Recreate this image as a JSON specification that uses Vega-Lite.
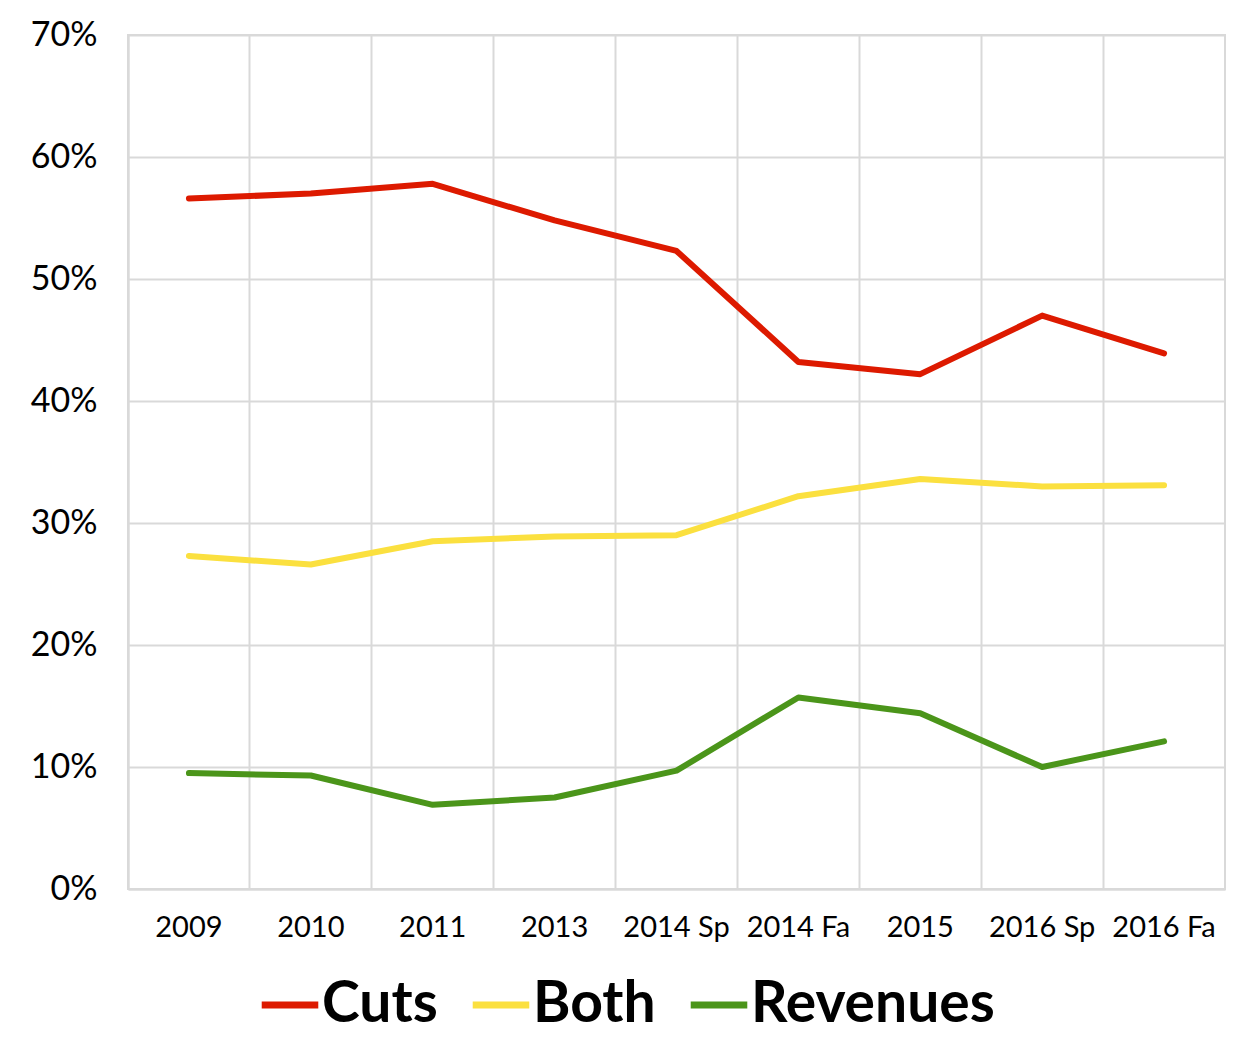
{
  "$schema": "https://vega.github.io/schema/vega-lite/v6.json",
  "autosize": {"type": "none"},
  "width": 1097,
  "height": 854,
  "padding": {"left": 128, "top": 35, "right": 28, "bottom": 170},
  "background": "white",
  "data": {
    "values": [
      {"period": "2009", "series": "Cuts", "value": 0.566},
      {"period": "2010", "series": "Cuts", "value": 0.570},
      {"period": "2011", "series": "Cuts", "value": 0.578},
      {"period": "2013", "series": "Cuts", "value": 0.548},
      {"period": "2014 Sp", "series": "Cuts", "value": 0.523},
      {"period": "2014 Fa", "series": "Cuts", "value": 0.432},
      {"period": "2015", "series": "Cuts", "value": 0.422},
      {"period": "2016 Sp", "series": "Cuts", "value": 0.470},
      {"period": "2016 Fa", "series": "Cuts", "value": 0.439},
      {"period": "2009", "series": "Both", "value": 0.273},
      {"period": "2010", "series": "Both", "value": 0.266},
      {"period": "2011", "series": "Both", "value": 0.285},
      {"period": "2013", "series": "Both", "value": 0.289},
      {"period": "2014 Sp", "series": "Both", "value": 0.290},
      {"period": "2014 Fa", "series": "Both", "value": 0.322},
      {"period": "2015", "series": "Both", "value": 0.336},
      {"period": "2016 Sp", "series": "Both", "value": 0.330},
      {"period": "2016 Fa", "series": "Both", "value": 0.331},
      {"period": "2009", "series": "Revenues", "value": 0.095},
      {"period": "2010", "series": "Revenues", "value": 0.093},
      {"period": "2011", "series": "Revenues", "value": 0.069},
      {"period": "2013", "series": "Revenues", "value": 0.075},
      {"period": "2014 Sp", "series": "Revenues", "value": 0.097},
      {"period": "2014 Fa", "series": "Revenues", "value": 0.157},
      {"period": "2015", "series": "Revenues", "value": 0.144},
      {"period": "2016 Sp", "series": "Revenues", "value": 0.100},
      {"period": "2016 Fa", "series": "Revenues", "value": 0.121}
    ]
  },
  "mark": {"type": "line", "strokeWidth": 6, "strokeCap": "round", "strokeJoin": "round"},
  "encoding": {
    "x": {
      "field": "period",
      "type": "ordinal",
      "sort": null,
      "scale": {"type": "band", "paddingInner": 0, "paddingOuter": 0},
      "axis": {
        "title": null,
        "labelAngle": 0,
        "labelFont": "Lato",
        "labelFontSize": 29,
        "labelColor": "#000000",
        "labelPadding": 24,
        "ticks": false,
        "domainColor": "#d9d9d9",
        "domainWidth": 2,
        "grid": true,
        "gridColor": "#d9d9d9",
        "gridWidth": 2,
        "bandPosition": 0
      }
    },
    "y": {
      "field": "value",
      "type": "quantitative",
      "scale": {"domain": [0, 0.7], "nice": false},
      "axis": {
        "title": null,
        "values": [0, 0.1, 0.2, 0.3, 0.4, 0.5, 0.6, 0.7],
        "format": ".0%",
        "labelFont": "Lato",
        "labelFontSize": 34,
        "labelColor": "#000000",
        "labelPadding": 31,
        "ticks": false,
        "domainColor": "#d9d9d9",
        "domainWidth": 2,
        "gridColor": "#d9d9d9",
        "gridWidth": 2
      }
    },
    "color": {
      "field": "series",
      "type": "nominal",
      "scale": {"domain": ["Cuts", "Both", "Revenues"], "range": ["#dd1a00", "#fbe03f", "#4b951a"]},
      "legend": {
        "title": null,
        "orient": "none",
        "legendX": 130,
        "legendY": 938,
        "direction": "horizontal",
        "symbolType": "stroke",
        "symbolStrokeWidth": 7,
        "symbolSize": 3200,
        "labelFont": "Lato",
        "labelFontSize": 57,
        "labelFontWeight": "bold",
        "labelColor": "#000000",
        "labelLimit": 400,
        "columnPadding": 20,
        "labelOffset": 0
      }
    }
  },
  "config": {
    "view": {"stroke": "#d9d9d9", "strokeWidth": 2}
  }
}
